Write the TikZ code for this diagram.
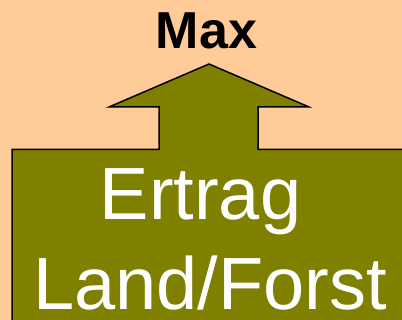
\documentclass[tikz,border=0pt]{standalone}
\usepackage{fontspec}
\setmainfont{Liberation Sans}
\definecolor{bgpeach}{HTML}{FFCC99}
\definecolor{olivefill}{HTML}{808000}
\begin{document}
\begin{tikzpicture}[x=1pt,y=-1pt,
  bigtext/.style={text=white,inner sep=0pt,anchor=base,text depth=0pt,font=\fontsize{74}{80}\selectfont},
  maxtext/.style={text=black,inner sep=0pt,anchor=base,font=\fontsize{52}{58}\selectfont\bfseries}]
\fill[bgpeach] (0,0) rectangle (402,320);
\useasboundingbox (0,0) rectangle (402,320);
\begin{scope}
\clip (0,0) rectangle (402,320);
\draw[fill=olivefill,line width=1.5pt,line join=miter]
  (12,330) -- (12,149.5) -- (159,149.5) -- (159,107) -- (109,107) -- (209,64)
  -- (309,107) -- (258,107) -- (258,149.5) -- (410,149.5) -- (410,330) -- cycle;
\end{scope}
\node[maxtext] (max) at (206.5,49) {Max};
\node[bigtext] (l1) at (200.5,220) {Ertrag};
\node[bigtext] (l2) at (210,310) {Land/Forst};
\end{tikzpicture}
\end{document}
